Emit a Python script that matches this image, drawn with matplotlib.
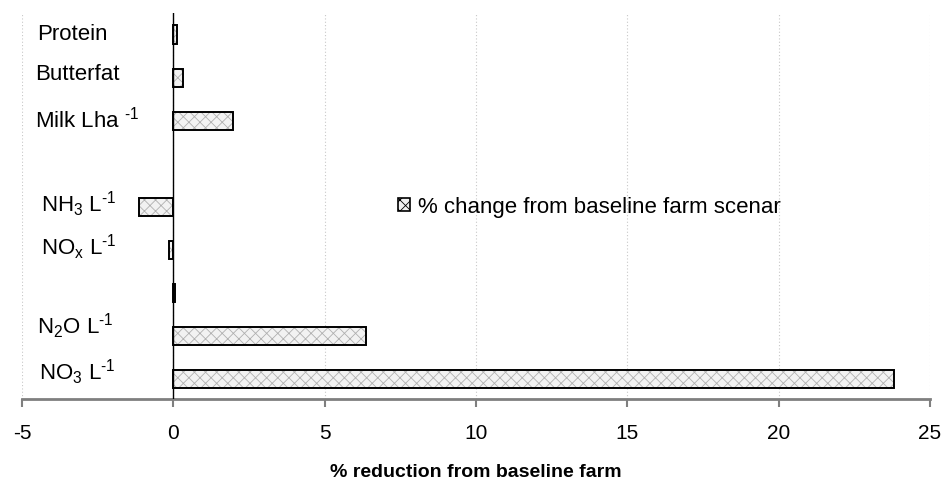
import matplotlib
matplotlib.use("Agg")
import matplotlib.pyplot as plt
from matplotlib.patches import Patch

# categories top to bottom (blank row = gap in the chart)
labels = ["Protein", "Butterfat", "Milk Lha $^{\u2010 1}$", "", "NH$_3$ L$^{\u20101}$",
          "NO$_x$ L$^{\u20101}$", "", "N$_2$O L$^{\u20101}$", "NO$_3$ L$^{\u20101}$"]
values = [0.12, 0.33, 1.98, 0.0, -1.12, -0.13, 0.07, 6.35, 23.8]
xticks = [-5, 0, 5, 10, 15, 20, 25]
legend_label = "% change from baseline farm scenar"

plt.rcParams["font.family"] = ["Liberation Sans", "DejaVu Sans"]
plt.rcParams["mathtext.fontset"] = "custom"
plt.rcParams["mathtext.rm"] = "Liberation Sans"
plt.rcParams["mathtext.it"] = "Liberation Sans"
plt.rcParams["mathtext.default"] = "regular"
plt.rcParams["hatch.linewidth"] = 0.6

fig = plt.figure(figsize=(9.46, 4.82), dpi=100)
ax = fig.add_axes([22 / 946, 83 / 482, 908 / 946, 386 / 482])

n = len(values)
ypos = [n - 1 - i for i in range(n)]
has_bar = [lab != "" or v != 0 for lab, v in zip(labels, values)]
ys = [y for y, h in zip(ypos, has_bar) if h]
vs = [v for v, h in zip(values, has_bar) if h]

# hatched fill, then black outline on top
ax.barh(ys, vs, height=0.42, color="#f2f2f2", edgecolor="#b0b0b0",
        hatch="xxx", linewidth=0, zorder=2)
ax.barh(ys, vs, height=0.42, fill=False, edgecolor="black",
        linewidth=1.4, zorder=3)

ax.axvline(0, color="black", linewidth=1.0, zorder=4)

# category labels sit inside the plot, left of zero
label_dy = [0, 0.07, 0.02, 0, 0.05, 0.05, 0, 0.22, 0.15]
label_x = [-4.49, -4.56, -4.56, 0, -4.36, -4.36, 0, -4.49, -4.43]
for lab, y, dy, x in zip(labels, ypos, label_dy, label_x):
    if lab:
        ax.text(x, y + dy, lab, ha="left", va="center", fontsize=16)

ax.set_xlim(-5, 25)
ax.set_ylim(-0.47, n - 0.5)
ax.set_xticks(xticks)
ax.set_xticklabels([str(t) for t in xticks], fontsize=15)
ax.set_yticks([])
ax.xaxis.grid(True, linestyle=(0, (1, 2)), color="#c8c8c8", linewidth=0.8)
ax.set_axisbelow(True)
ax.tick_params(axis="x", direction="out", length=6, width=1.5,
               color="#7f7f7f", pad=12)
for s in ["top", "right", "left"]:
    ax.spines[s].set_visible(False)
ax.spines["bottom"].set_color("#7f7f7f")
ax.spines["bottom"].set_linewidth(2)

ax.set_xlabel("% reduction from baseline farm", fontsize=14, fontweight="bold",
              labelpad=15)

handle = Patch(facecolor="#f2f2f2", edgecolor="black", hatch="xxx", linewidth=1.2)
ax.legend([handle], [legend_label], loc="center left",
          bbox_to_anchor=(378 / 946, 1 - 207 / 482), bbox_transform=fig.transFigure,
          frameon=False, fontsize=16, handlelength=0.55, handleheight=0.55,
          handletextpad=0.35)

fig.savefig("out.png", dpi=100)
